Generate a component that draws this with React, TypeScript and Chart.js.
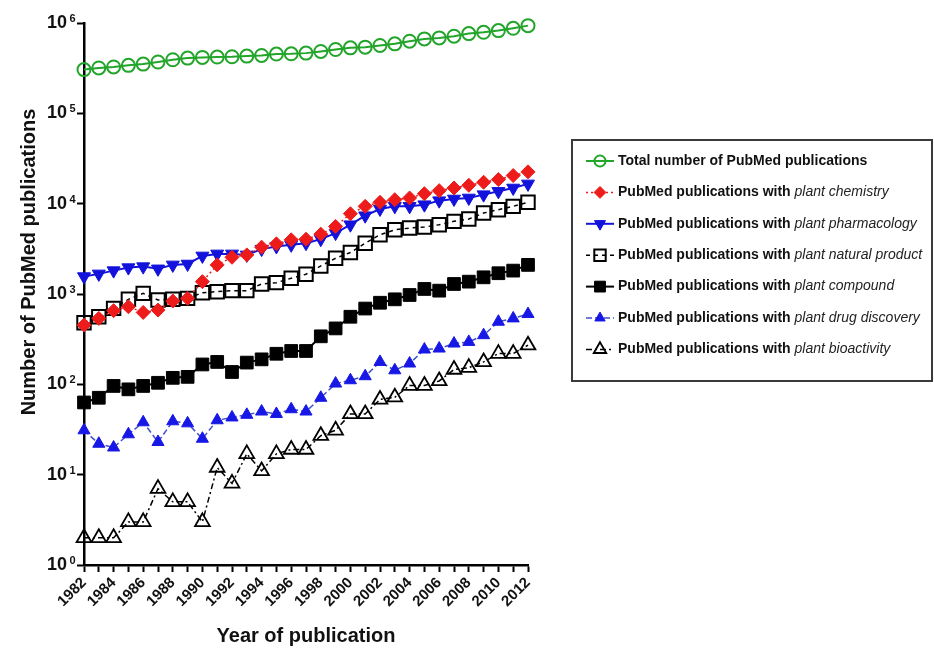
import React, { useEffect, useRef } from 'react';
import { Chart, registerables } from 'chart.js';

Chart.register(...registerables);

const FONT = '"Liberation Sans", Arial, Helvetica, sans-serif';

// ---- data ----
const years = [
  '1982', '1983', '1984', '1985', '1986', '1987', '1988', '1989', '1990', '1991',
  '1992', '1993', '1994', '1995', '1996', '1997', '1998', '1999', '2000', '2001',
  '2002', '2003', '2004', '2005', '2006', '2007', '2008', '2009', '2010', '2011', '2012',
];

const totalPubMed = [
  305000, 318000, 326000, 340000, 351000, 370000, 392000, 409000, 416000, 420000,
  423000, 430000, 437000, 453000, 456000, 464000, 484000, 509000, 531000, 540000,
  564000, 588000, 629000, 667000, 684000, 714000, 763000, 789000, 824000, 874000, 935000,
];
const plantChemistry = [
  453, 537, 654, 723, 625, 664, 836, 895, 1370, 2100,
  2550, 2710, 3300, 3590, 3980, 4040, 4600, 5600, 7740, 9340,
  10350, 11070, 11560, 12900, 13940, 14920, 15980, 17260, 18490, 20470, 22490,
];
const plantPharmacology = [
  1560, 1670, 1815, 1960, 2010, 1900, 2100, 2150, 2640, 2780,
  2780, 2710, 3140, 3360, 3500, 3650, 4045, 4720, 5850, 7360,
  8730, 9340, 9340, 9750, 10800, 11270, 11560, 12590, 13700, 14920, 16550,
];
const plantNaturalProduct = [
  480, 560, 693, 873, 1016, 858, 873, 895, 1034, 1061,
  1089, 1089, 1291, 1336, 1493, 1655, 2046, 2490, 2877, 3650,
  4530, 5140, 5370, 5510, 5850, 6370, 6760, 7870, 8570, 9340, 10350,
];
const plantCompound = [
  63, 71, 96, 88, 96, 104, 118, 121, 166, 177,
  137, 174, 189, 218, 234, 234, 340, 416, 560, 690,
  800, 873, 975, 1137, 1089, 1291, 1370, 1530, 1698, 1815, 2100,
];
const plantDrugDiscovery = [
  31, 22, 20, 28, 38, 23, 39, 37, 25, 40,
  43, 46, 50, 47, 53, 50, 71, 102, 111, 123,
  177, 143, 170, 243, 249, 283, 295, 350, 493, 537, 600,
];
const plantBioactivity = [
  2, 2, 2, 3, 3, 7, 5, 5, 3, 12,
  8, 17, 11, 17, 19, 19, 27, 31, 47, 47,
  68, 72, 97, 97, 109, 146, 153, 177, 219, 219, 271,
];

const yTickExponents = [0, 1, 2, 3, 4, 5, 6];
const yTickBase = '10';

const legendMain = [
  'Total number of PubMed publications',
  'PubMed publications with ',
  'PubMed publications with ',
  'PubMed publications with ',
  'PubMed publications with ',
  'PubMed publications with ',
  'PubMed publications with ',
];
const legendItalic = [
  '',
  'plant chemistry',
  'plant pharmacology',
  'plant natural product',
  'plant compound',
  'plant drug discovery',
  'plant bioactivity',
];

const yAxisTitle = 'Number of PubMed publications';
const xAxisTitle = 'Year of publication';

// ---- styles ----
const GREEN = '#22a52a';
const RED = '#ee1b1b';
const BLUE = '#1212dc';
const BLUE2 = '#1818e6';
const BLUE_LINE = '#4050d0';
const BLACK = '#000000';
const NONE = 'rgba(0,0,0,0)';
const EXP_GAP = 8;

function drawMarker(
  ctx: CanvasRenderingContext2D,
  style: string,
  x: number,
  y: number,
  r: number,
  rotationDeg: number,
  fill: string,
  stroke: string,
  lw: number
) {
  ctx.save();
  ctx.setLineDash([]);
  ctx.beginPath();
  let rad = (rotationDeg * Math.PI) / 180;
  if (style === 'circle') {
    ctx.arc(x, y, r, 0, Math.PI * 2);
  } else if (style === 'rect') {
    const s = Math.SQRT1_2 * r;
    ctx.rect(x - s, y - s, 2 * s, 2 * s);
  } else if (style === 'rectRot') {
    ctx.moveTo(x - r, y);
    ctx.lineTo(x, y - r);
    ctx.lineTo(x + r, y);
    ctx.lineTo(x, y + r);
  } else if (style === 'triangle') {
    const t = (2 * Math.PI) / 3;
    ctx.moveTo(x + Math.sin(rad) * r, y - Math.cos(rad) * r);
    rad += t;
    ctx.lineTo(x + Math.sin(rad) * r, y - Math.cos(rad) * r);
    rad += t;
    ctx.lineTo(x + Math.sin(rad) * r, y - Math.cos(rad) * r);
  }
  ctx.closePath();
  ctx.fillStyle = fill;
  ctx.fill();
  ctx.lineWidth = lw;
  ctx.strokeStyle = stroke;
  ctx.stroke();
  ctx.restore();
}

const customLegend = {
  id: 'customLegend',
  afterDraw(chart: any) {
    const ctx: CanvasRenderingContext2D = chart.ctx;
    ctx.save();
    ctx.strokeStyle = '#3a3a3a';
    ctx.lineWidth = 2;
    ctx.setLineDash([]);
    ctx.strokeRect(572, 140, 360, 241);
    chart.data.datasets.forEach((ds: any, i: number) => {
      const y = 161 + i * 31.4;
      ctx.beginPath();
      ctx.setLineDash(ds.borderDash || []);
      ctx.strokeStyle = ds.borderColor;
      ctx.lineWidth = ds.borderWidth;
      ctx.moveTo(586, y);
      ctx.lineTo(614, y);
      ctx.stroke();
      ctx.setLineDash([]);
      drawMarker(
        ctx,
        ds.pointStyle,
        600,
        y,
        ds.pointRadius * 0.85,
        ds.pointRotation || 0,
        ds.pointBackgroundColor,
        ds.pointBorderColor,
        ds.pointBorderWidth
      );
      ctx.fillStyle = '#111';
      ctx.textAlign = 'left';
      ctx.textBaseline = 'middle';
      ctx.font = `bold 14px ${FONT}`;
      ctx.fillText(legendMain[i], 618, y);
      const w = ctx.measureText(legendMain[i]).width;
      if (legendItalic[i]) {
        ctx.font = `italic 14px ${FONT}`;
        ctx.fillStyle = '#222';
        ctx.fillText(legendItalic[i], 618 + w, y);
      }
    });
    ctx.restore();
  },
};

const yTitlePlugin = {
  id: 'yTitle',
  afterDraw(chart: any) {
    const ctx: CanvasRenderingContext2D = chart.ctx;
    ctx.save();
    ctx.translate(29, 262);
    ctx.rotate(-Math.PI / 2);
    ctx.font = `bold 20px ${FONT}`;
    ctx.fillStyle = '#111';
    ctx.textAlign = 'center';
    ctx.textBaseline = 'middle';
    ctx.fillText(yAxisTitle, 0, 0);
    ctx.restore();
  },
};

// exponents of the y tick labels (10^n), placed from the log scale
const yExponentPlugin = {
  id: 'yExponents',
  afterDraw(chart: any) {
    const ctx: CanvasRenderingContext2D = chart.ctx;
    const scale = chart.scales.y;
    const x0 = chart.chartArea.left - 7 - EXP_GAP;
    ctx.save();
    ctx.font = `bold 11px ${FONT}`;
    ctx.fillStyle = '#111';
    ctx.textAlign = 'left';
    ctx.textBaseline = 'alphabetic';
    yTickExponents.forEach((e) => {
      const py = scale.getPixelForValue(Math.pow(10, e));
      ctx.fillText(String(e), x0 + 0.5, py - 1);
    });
    ctx.restore();
  },
};

export default function App() {
  const canvasRef = useRef<HTMLCanvasElement | null>(null);

  useEffect(() => {
    if (!canvasRef.current) return;
    Chart.defaults.font.family = FONT;
    Chart.defaults.color = '#111';

    const chart = new Chart(canvasRef.current, {
      type: 'line',
      data: {
        labels: years,
        datasets: [
          {
            label: legendMain[0],
            data: totalPubMed,
            borderColor: GREEN,
            borderWidth: 2,
            borderDash: [],
            pointStyle: 'circle',
            pointRadius: 6.5,
            pointBackgroundColor: NONE,
            pointBorderColor: GREEN,
            pointBorderWidth: 2,
            clip: false,
          },
          {
            label: legendMain[1] + legendItalic[1],
            data: plantChemistry,
            borderColor: RED,
            borderWidth: 1.5,
            borderDash: [2, 3],
            pointStyle: 'rectRot',
            pointRadius: 7,
            pointBackgroundColor: RED,
            pointBorderColor: RED,
            pointBorderWidth: 1,
            clip: false,
          },
          {
            label: legendMain[2] + legendItalic[2],
            data: plantPharmacology,
            borderColor: BLUE,
            borderWidth: 2,
            borderDash: [],
            pointStyle: 'triangle',
            pointRotation: 180,
            pointRadius: 7.5,
            pointBackgroundColor: BLUE,
            pointBorderColor: BLUE,
            pointBorderWidth: 1,
            clip: false,
          },
          {
            label: legendMain[3] + legendItalic[3],
            data: plantNaturalProduct,
            borderColor: BLACK,
            borderWidth: 1.5,
            borderDash: [4, 4],
            pointStyle: 'rect',
            pointRadius: 9.5,
            pointBackgroundColor: NONE,
            pointBorderColor: BLACK,
            pointBorderWidth: 2,
            clip: false,
          },
          {
            label: legendMain[4] + legendItalic[4],
            data: plantCompound,
            borderColor: BLACK,
            borderWidth: 2,
            borderDash: [],
            pointStyle: 'rect',
            pointRadius: 9,
            pointBackgroundColor: BLACK,
            pointBorderColor: BLACK,
            pointBorderWidth: 1,
            clip: false,
          },
          {
            label: legendMain[5] + legendItalic[5],
            data: plantDrugDiscovery,
            borderColor: BLUE_LINE,
            borderWidth: 1.5,
            borderDash: [6, 3],
            pointStyle: 'triangle',
            pointRadius: 7,
            pointBackgroundColor: BLUE2,
            pointBorderColor: BLUE2,
            pointBorderWidth: 1,
            clip: false,
          },
          {
            label: legendMain[6] + legendItalic[6],
            data: plantBioactivity,
            borderColor: BLACK,
            borderWidth: 1.5,
            borderDash: [6, 3, 2, 3],
            pointStyle: 'triangle',
            pointRadius: 8.5,
            pointBackgroundColor: NONE,
            pointBorderColor: BLACK,
            pointBorderWidth: 1.8,
            clip: false,
          },
        ] as any,
      },
      options: {
        animation: false,
        responsive: true,
        maintainAspectRatio: false,
        layout: { padding: { left: 0, right: 406, top: 23, bottom: 0 } },
        plugins: {
          legend: { display: false },
          tooltip: { enabled: false },
        },
        elements: { line: { tension: 0 } },
        scales: {
          x: {
            type: 'category',
            offset: false,
            grid: {
              display: true,
              offset: false,
              drawOnChartArea: false,
              drawTicks: true,
              tickLength: 7,
              tickWidth: 2,
              tickColor: '#000',
            },
            border: { display: true, color: '#000', width: 2.5 },
            ticks: {
              autoSkip: false,
              minRotation: 45,
              maxRotation: 45,
              padding: 2,
              color: '#111',
              font: { size: 15, weight: 'bold', family: FONT },
              callback: function (this: any, value: any) {
                const lab = this.getLabelForValue(value);
                return Number(lab) % 2 === 0 ? lab : '';
              },
            },
            title: {
              display: true,
              text: xAxisTitle,
              color: '#111',
              font: { size: 20, weight: 'bold', family: FONT },
              padding: { top: 0, bottom: 1 },
            },
            afterFit: (scale: any) => {
              scale.height = 84;
            },
          },
          y: {
            type: 'logarithmic',
            min: 1,
            max: 1000000,
            grid: {
              display: true,
              drawOnChartArea: false,
              drawTicks: true,
              tickLength: 7,
              tickWidth: 2,
              tickColor: '#000',
            },
            border: { display: true, color: '#000', width: 2.5 },
            afterBuildTicks: (scale: any) => {
              scale.ticks = yTickExponents.map((e) => ({ value: Math.pow(10, e), major: true }));
            },
            ticks: {
              padding: 2 + EXP_GAP,
              color: '#111',
              font: { size: 18, weight: 'bold', family: FONT },
              callback: () => yTickBase,
            },
            afterFit: (scale: any) => {
              scale.width = 84;
            },
          },
        },
      } as any,
      plugins: [customLegend, yTitlePlugin, yExponentPlugin],
    });

    return () => {
      chart.destroy();
    };
  }, []);

  return (
    <div
      style={{
        position: 'fixed',
        left: 0,
        top: 0,
        width: 934,
        height: 649,
        background: '#fff',
      }}
    >
      <canvas ref={canvasRef} />
    </div>
  );
}
